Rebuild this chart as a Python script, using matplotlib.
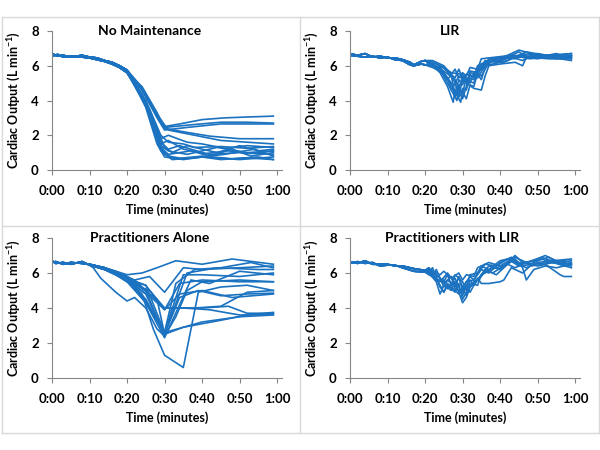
import matplotlib
matplotlib.use("Agg")
import matplotlib.pyplot as plt
from matplotlib.lines import Line2D

plt.rcParams['font.family'] = ['Lato', 'DejaVu Sans']
plt.rcParams['font.weight'] = 'bold'
plt.rcParams['mathtext.fontset'] = 'custom'
plt.rcParams['mathtext.rm'] = 'Lato'
plt.rcParams['mathtext.bf'] = 'Lato:bold'

kBlue = '#1b72c0'
kGray = '#868686'

# time axis (minutes) and tick labels
x_ticks = [0, 10, 20, 30, 40, 50, 60]
x_tick_labels = ['0:00', '0:10', '0:20', '0:30', '0:40', '0:50', '1:00']
y_ticks = [0, 2, 4, 6, 8]

# ---- No Maintenance: two start variants, then individual tails (t, L/min)
nm_starts = [
    [(0, 6.7), (1.5, 6.55), (3, 6.6), (5, 6.5), (8, 6.6), (10, 6.5), (12, 6.45), (14, 6.3), (16, 6.2), (18, 6.0), (20, 5.75)],
    [(0, 6.55), (1.5, 6.65), (3, 6.5), (5, 6.55), (8, 6.5), (10, 6.45), (12, 6.35), (14, 6.25), (16, 6.1), (18, 5.9), (20, 5.6)],
]
nm_tails = [
    [(24, 4.7), (28, 3.1), (30, 2.5), (34, 2.65), (40, 2.9), (46, 3.0), (52, 3.05), (59, 3.1)],
    [(24, 4.8), (28, 3.3), (30, 2.45), (37, 2.6), (45, 2.75), (52, 2.75), (59, 2.7)],
    [(24, 4.6), (28, 3.0), (30, 2.3), (36, 2.45), (45, 2.65), (59, 2.65)],
    [(24, 4.6), (28, 3.1), (30, 2.4), (35, 2.2), (42, 1.95), (50, 1.8), (59, 1.8)],
    [(23, 5.0), (28, 3.2), (31, 2.3), (38, 2.0), (45, 1.7), (52, 1.6), (59, 1.5)],
    [(25, 4.0), (29, 2.0), (31, 1.6), (35, 1.5), (38, 1.3), (45, 1.35), (52, 1.25), (59, 1.35)],
    [(25, 3.9), (29, 1.6), (31, 1.2), (34, 1.4), (37, 1.2), (41, 0.95), (47, 1.1), (53, 0.95), (59, 1.1)],
    [(25, 3.7), (29, 1.2), (31, 0.8), (35, 0.65), (40, 0.75), (45, 0.6), (52, 0.7), (59, 0.6)],
    [(25, 3.6), (28, 1.5), (30, 0.75), (35, 0.6), (40, 0.75), (50, 0.6), (59, 0.75)],
    [(26, 3.5), (30, 1.3), (32, 1.0), (36, 1.4), (40, 1.2), (44, 1.0), (50, 1.4), (55, 1.1), (59, 1.2)],
    [(25, 3.8), (29, 1.5), (31, 1.7), (35, 1.2), (42, 0.9), (50, 1.0), (59, 0.9)],
    [(24, 4.4), (29, 1.8), (31, 2.0), (36, 1.6), (40, 1.5), (46, 1.25), (52, 1.4), (59, 1.3)],
    [(26, 3.4), (30, 0.9), (33, 0.65), (40, 0.8), (48, 0.65), (55, 0.75), (59, 0.6)],
    [(25, 4.0), (29, 1.4), (31, 1.1), (36, 0.9), (44, 1.3), (52, 1.0), (59, 1.1)],
    [(24, 4.3), (29, 1.1), (32, 0.6), (38, 0.7), (46, 0.9), (54, 1.2), (59, 0.8)],
    [(25, 3.9), (29, 1.3), (31, 0.9), (37, 1.1), (42, 0.8), (48, 1.2), (53, 0.8), (59, 1.0)],
]

# ---- LIR
lir_starts = [
    [(0, 6.7), (2, 6.6), (4, 6.7), (6, 6.5), (8, 6.55), (10, 6.45), (12, 6.45), (14, 6.35), (16, 6.2), (17, 6.05), (19, 6.25), (20, 6.3)],
    [(0, 6.6), (2, 6.55), (4, 6.5), (6, 6.55), (8, 6.45), (10, 6.5), (12, 6.35), (14, 6.3), (16, 6.05), (17, 6.0), (19, 6.1), (20, 6.05)],
]
lir_tails = [
    [(22, 6.0), (24, 5.6), (26, 4.8), (27.5, 3.9), (28, 4.6), (29, 4.3), (30, 5.2), (31, 5.0), (32, 5.6), (34, 5.5), (36, 6.2), (40, 6.3), (44, 6.6), (48, 6.5), (52, 6.6), (56, 6.5), (59, 6.6)],
    [(22, 6.1), (24, 5.8), (26, 5.0), (28.5, 4.0), (29, 4.8), (30, 4.4), (31, 5.3), (33, 5.2), (35, 5.9), (37, 6.2), (41, 6.4), (45, 6.8), (47, 6.5), (53, 6.6), (59, 6.5)],
    [(22, 6.0), (25, 5.5), (27, 4.9), (29.5, 3.9), (30, 4.7), (31, 4.6), (32, 5.4), (34, 5.3), (36, 6.0), (38, 6.1), (42, 6.3), (46, 6.7), (50, 6.5), (55, 6.7), (59, 6.4)],
    [(22, 6.2), (25, 5.9), (27, 5.4), (28, 4.4), (29, 5.2), (30, 4.9), (31, 5.5), (33, 5.4), (34, 6.0), (38, 6.4), (44, 6.5), (47, 6.8), (52, 6.6), (59, 6.7)],
    [(22, 6.1), (25, 5.7), (28, 5.2), (29, 4.7), (30, 5.4), (31, 5.0), (33, 4.7), (35, 4.6), (36, 5.4), (37, 6.0), (40, 6.1), (44, 6.2), (46, 6.0), (47, 6.5), (53, 6.4), (59, 6.4)],
    [(22, 6.0), (25, 5.9), (27, 5.6), (30, 5.5), (31, 5.2), (33, 5.0), (34, 5.5), (35, 5.2), (36, 5.9), (38, 6.3), (42, 6.6), (45, 6.9), (50, 6.6), (56, 6.5), (59, 6.6)],
    [(22, 6.3), (25, 6.0), (27, 5.5), (28, 5.8), (29, 5.3), (30, 5.6), (31, 5.4), (32, 5.9), (34, 5.8), (35, 6.4), (39, 6.5), (43, 6.6), (48, 6.4), (54, 6.6), (59, 6.5)],
    [(22, 6.0), (24, 5.9), (26, 5.3), (27, 4.6), (28, 5.0), (29, 4.2), (30, 4.5), (31, 4.1), (32, 4.9), (33, 4.8), (34, 5.6), (35, 5.4), (37, 6.2), (40, 6.5), (44, 6.4), (48, 6.7), (53, 6.5), (59, 6.3)],
    [(22, 6.2), (24, 6.0), (26, 5.7), (28, 5.3), (29, 5.8), (30, 5.3), (32, 5.7), (34, 5.6), (36, 6.3), (39, 6.2), (43, 6.5), (46, 6.3), (49, 6.6), (55, 6.4), (59, 6.6)],
    [(22, 5.9), (25, 5.6), (27, 5.0), (28, 4.2), (29, 4.9), (30, 4.1), (31, 4.8), (32, 5.5), (33, 5.3), (35, 6.1), (38, 6.3), (41, 6.2), (45, 6.6), (50, 6.7), (55, 6.5), (59, 6.5)],
    [(22, 6.1), (24, 5.7), (26, 5.2), (27, 5.5), (28, 5.0), (29, 5.4), (31, 5.1), (32, 5.0), (33, 5.6), (35, 5.8), (37, 6.4), (42, 6.5), (46, 6.5), (50, 6.4), (55, 6.6), (59, 6.7)],
]

# ---- Practitioners Alone
pa_starts = [
    [(0, 6.7), (1, 6.55), (3, 6.6), (5, 6.5), (8, 6.65), (10, 6.45)],
    [(0, 6.6), (1, 6.65), (3, 6.5), (5, 6.6), (8, 6.55), (10, 6.5)],
]
pa_tails = [
    [(11, 6.3), (13, 5.7), (17, 4.9), (20, 4.4), (22, 4.6), (25, 4.0), (28, 2.8), (30, 2.4), (33, 3.5), (36, 5.0), (40, 5.5), (50, 5.6), (59, 5.5)],
    [(14, 6.3), (17, 6.0), (20, 5.7), (25, 4.5), (30, 2.5), (35, 2.9), (45, 3.3), (52, 3.6), (59, 3.75)],
    [(14, 6.3), (17, 6.0), (20, 5.6), (25, 4.3), (30, 2.6), (40, 3.2), (50, 3.5), (59, 3.6)],
    [(14, 6.3), (17, 6.1), (20, 5.8), (25, 5.0), (30, 2.4), (32, 4.0), (40, 4.0), (47, 4.1), (52, 3.7), (59, 3.7)],
    [(14, 6.3), (17, 6.0), (20, 5.5), (26, 5.8), (30, 4.9), (35, 6.3), (40, 6.2), (50, 6.3), (59, 6.4)],
    [(14, 6.2), (17, 6.0), (20, 5.7), (25, 5.3), (30, 3.9), (34, 5.4), (40, 5.6), (50, 5.5), (59, 5.5)],
    [(14, 6.3), (17, 6.0), (20, 5.6), (27, 4.5), (30, 3.9), (34, 4.8), (40, 5.0), (48, 4.6), (59, 4.8)],
    [(14, 6.2), (17, 5.9), (20, 5.6), (25, 4.8), (30, 2.5), (34, 4.6), (39, 5.0), (45, 4.7), (52, 4.8), (59, 4.85)],
    [(14, 6.2), (17, 5.9), (20, 5.6), (24, 4.8), (27, 2.8), (30, 1.3), (35, 0.6), (39, 4.9), (45, 5.2), (52, 5.3), (59, 5.0)],
    [(14, 6.3), (17, 6.1), (20, 5.9), (24, 6.0), (28, 6.3), (33, 6.7), (40, 6.5), (48, 6.8), (59, 6.5)],
    [(14, 6.2), (17, 6.0), (20, 5.6), (25, 5.3), (30, 2.6), (33, 5.4), (38, 6.2), (45, 6.3), (53, 6.6), (59, 6.3)],
    [(14, 6.3), (17, 6.0), (20, 5.7), (25, 4.4), (30, 2.6), (35, 5.9), (40, 5.9), (50, 5.8), (59, 6.0)],
    [(14, 6.2), (17, 5.9), (20, 5.5), (25, 4.3), (30, 2.3), (37, 5.6), (42, 5.4), (50, 6.1), (59, 5.9)],
    [(14, 6.3), (18, 6.0), (22, 5.6), (30, 4.0), (38, 4.0), (45, 4.1), (52, 4.9), (59, 5.0)],
    [(14, 6.2), (17, 5.9), (20, 5.5), (26, 5.0), (30, 4.0), (35, 4.0), (42, 3.9), (50, 3.6), (59, 3.65)],
    [(14, 6.3), (17, 6.0), (20, 5.7), (28, 4.5), (30, 2.5), (36, 6.0), (44, 6.3), (55, 6.2), (59, 6.2)],
]

# ---- Practitioners with LIR
pl_starts = [
    [(0, 6.65), (2, 6.55), (4, 6.7), (6, 6.5), (8, 6.5), (10, 6.5), (12, 6.4), (14, 6.4), (17, 6.25), (20, 6.15)],
    [(0, 6.55), (2, 6.65), (4, 6.55), (6, 6.6), (8, 6.4), (10, 6.45), (12, 6.45), (14, 6.3), (17, 6.1), (20, 6.05)],
]
pl_tails = [
    [(21, 6.3), (22, 5.8), (23, 6.2), (25, 5.2), (26, 5.6), (28, 5.2), (29, 5.8), (30, 5.0), (31, 5.5), (33, 5.6), (35, 6.2), (37, 6.0), (40, 6.6), (43, 6.9), (45, 6.6), (48, 6.5), (51, 6.8), (54, 6.6), (57, 6.7), (59, 6.6)],
    [(21, 6.0), (23, 5.5), (24, 4.8), (25, 5.3), (27, 5.0), (28, 5.5), (30, 4.3), (31, 4.6), (32, 5.2), (34, 5.6), (36, 6.2), (38, 6.0), (41, 6.4), (44, 7.0), (46, 6.6), (50, 6.7), (53, 6.9), (56, 6.5), (59, 6.4)],
    [(21, 6.2), (23, 5.9), (25, 5.5), (26, 5.9), (27, 5.3), (28, 5.9), (30, 5.5), (31, 5.0), (32, 5.6), (33, 5.3), (35, 5.9), (37, 6.4), (40, 6.2), (43, 6.7), (47, 6.3), (50, 6.6), (54, 6.7), (59, 6.8)],
    [(21, 6.1), (23, 5.6), (25, 5.6), (26, 5.1), (28, 5.7), (29, 5.2), (30, 4.7), (31, 5.3), (32, 4.9), (34, 5.7), (35, 5.4), (37, 5.4), (40, 5.5), (41, 5.6), (43, 6.3), (46, 6.0), (48, 6.4), (52, 6.5), (56, 5.9), (57, 5.8), (59, 5.8)],
    [(21, 6.3), (22, 6.1), (24, 5.9), (25, 6.1), (27, 5.7), (29, 6.0), (30, 5.6), (31, 5.9), (33, 5.8), (34, 6.3), (37, 6.6), (40, 6.4), (43, 6.8), (45, 6.5), (49, 6.7), (52, 7.0), (55, 6.7), (59, 6.5)],
    [(21, 5.9), (23, 5.7), (25, 4.9), (26, 5.4), (27, 5.2), (29, 4.8), (30, 5.2), (31, 4.7), (32, 5.4), (34, 5.3), (35, 5.9), (37, 6.1), (39, 5.9), (42, 6.5), (44, 6.8), (46, 6.3), (47, 5.6), (49, 6.2), (52, 6.4), (55, 6.3), (59, 6.5)],
    [(21, 6.2), (22, 5.9), (24, 5.5), (26, 6.0), (28, 5.4), (29, 5.7), (30, 5.2), (32, 5.8), (33, 5.6), (35, 6.4), (37, 6.2), (40, 6.7), (44, 6.9), (47, 6.6), (51, 6.9), (55, 6.6), (59, 6.7)],
    [(21, 6.0), (22, 6.3), (24, 5.2), (25, 4.9), (26, 5.3), (28, 4.9), (29, 5.4), (30, 4.5), (31, 4.9), (33, 5.5), (35, 5.8), (36, 6.1), (39, 6.3), (42, 6.5), (44, 6.3), (47, 6.6), (50, 6.4), (54, 6.6), (59, 6.3)],
    [(21, 6.1), (22, 6.0), (24, 5.7), (25, 5.4), (27, 5.8), (28, 5.1), (30, 4.9), (31, 5.2), (32, 5.9), (34, 6.0), (36, 6.5), (39, 6.4), (42, 6.8), (45, 6.4), (49, 6.5), (53, 6.6), (59, 6.5)],
]


def DrawPanel(ax, title, starts, tails, title_x):
  for i, tail in enumerate(tails):
    pts = starts[i % len(starts)] + tail
    ax.plot([p[0] for p in pts], [p[1] for p in pts], color=kBlue, lw=1.2)

  ax.set_xlim(0, 61.3)
  ax.set_ylim(0, 8)
  ax.set_xticks(x_ticks)
  ax.set_xticklabels(x_tick_labels)
  ax.set_yticks(y_ticks)
  ax.tick_params(axis='both', color=kGray, length=3.5, width=0.8, labelsize=9.5, pad=6)
  ax.tick_params(axis='x', pad=7)
  for side in ['top', 'right']:
    ax.spines[side].set_visible(False)
  for side in ['left', 'bottom']:
    ax.spines[side].set_color(kGray)
    ax.spines[side].set_linewidth(0.8)
  ax.set_xlabel('Time (minutes)', fontsize=9, fontweight='bold', labelpad=5)
  ax.set_ylabel(r'Cardiac Output (L min$^{\mathbf{-1}}$)', fontsize=9, fontweight='bold', labelpad=6)
  ax.text(title_x, 1.0, title, transform=ax.transAxes, ha='center', va='center', fontsize=10, fontweight='bold')


fig = plt.figure(figsize=(6, 4.5), dpi=100)

w = 230 / 600
h_top = 139 / 450
h_bot = 140 / 450
ax1 = fig.add_axes([52 / 600, 1 - 170 / 450, w, h_top])
ax2 = fig.add_axes([350 / 600, 1 - 170 / 450, w, h_top])
ax3 = fig.add_axes([52 / 600, 1 - 378 / 450, w, h_bot])
ax4 = fig.add_axes([350 / 600, 1 - 378 / 450, w, h_bot])

DrawPanel(ax1, 'No Maintenance', nm_starts, nm_tails, 0.426)
DrawPanel(ax2, 'LIR', lir_starts, lir_tails, 0.435)
DrawPanel(ax3, 'Practitioners Alone', pa_starts, pa_tails, 0.426)
DrawPanel(ax4, 'Practitioners with LIR', pl_starts, pl_tails, 0.442)

# frame lines around and between the panels
kFrame = '#d9d9d9'
top, mid, bot = 1 - 17 / 450, 1 - 226 / 450, 1 - 433 / 450
left, right, cx = 1.5 / 600, 598.5 / 600, 300 / 600
for xs, ys in [([left, right], [top, top]), ([left, right], [mid, mid]), ([left, right], [bot, bot]),
               ([left, left], [bot, top]), ([right, right], [bot, top]), ([cx, cx], [bot, top])]:
  fig.add_artist(Line2D(xs, ys, transform=fig.transFigure, color=kFrame, lw=1.0))

fig.savefig('out.png', dpi=100)
